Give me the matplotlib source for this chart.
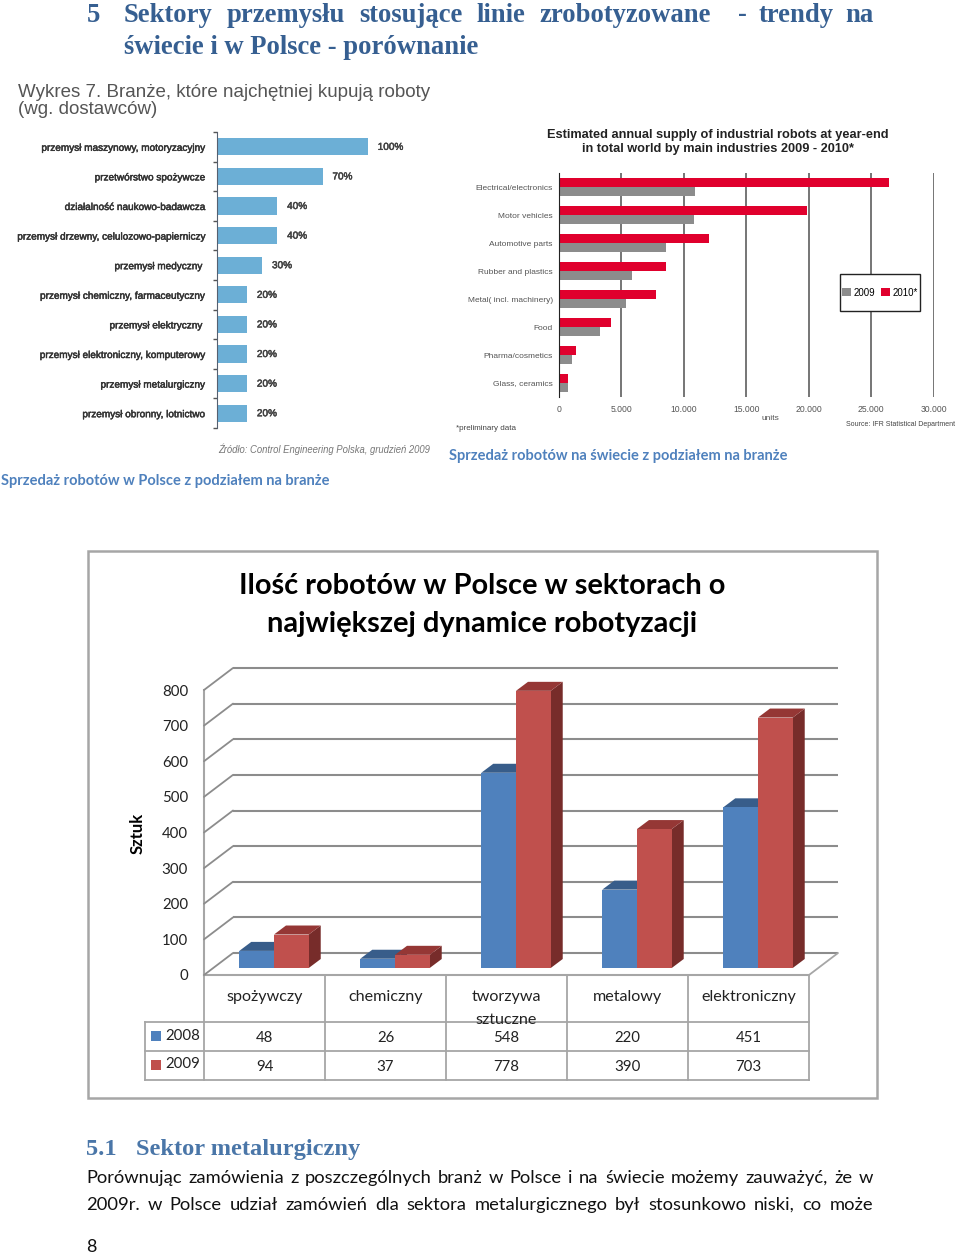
"""
Scanned report page: two pasted bar charts and one 3D-style column chart with data table.
"""

import matplotlib
matplotlib.use("Agg")
import matplotlib.pyplot as plt
import matplotlib.patheffects as pe
from matplotlib.patches import Polygon, Rectangle
from matplotlib.transforms import Affine2D

W, H = 960, 1255

# left pasted chart
pl_labels = ["przemysł maszynowy, motoryzacyjny", "przetwórstwo spożywcze", "działalność naukowo-badawcza",
             "przemysł drzewny, celulozowo-papierniczy", "przemysł medyczny ", "przemysł chemiczny, farmaceutyczny",
             "przemysł elektryczny ", "przemysł elektroniczny, komputerowy", "przemysł metalurgiczny",
             "przemysł obronny, lotnictwo"]
pl_values = [100, 70, 40, 40, 30, 20, 20, 20, 20, 20]

# right pasted chart
world_labels = ["Electrical/electronics", "Motor vehicles", "Automotive parts", "Rubber and plastics",
                "Metal( incl. machinery)", "Food", "Pharma/cosmetics", "Glass, ceramics"]
world_2010 = [26450, 19900, 12050, 8550, 7750, 4200, 1380, 720]
world_2009 = [10900, 10800, 8550, 5880, 5350, 3300, 1070, 720]
world_ticks = [0, 5000, 10000, 15000, 20000, 25000, 30000]
world_ticklabels = ["0", "5.000", "10.000", "15.000", "20.000", "25.000", "30.000"]

# main chart
sectors = ["spożywczy", "chemiczny", "tworzywa\nsztuczne", "metalowy", "elektroniczny"]
robots_2008 = [48, 26, 548, 220, 451]
robots_2009 = [94, 37, 778, 390, 703]
main_ticks = [0, 100, 200, 300, 400, 500, 600, 700, 800]

SANS = "Liberation Sans"
BODY = "Lato"
HEAD = "Liberation Serif"

fig = plt.figure(figsize=(W / 100, H / 100), dpi=100, facecolor="white")


def add_axes_px(left, top, right, bottom):
    return fig.add_axes([left / W, 1 - bottom / H, (right - left) / W, (bottom - top) / H])


# full page axes in pixels, used for text and page furniture
page = fig.add_axes([0, 0, 1, 1], zorder=0)
page.set_xlim(0, W)
page.set_ylim(H, 0)
page.axis("off")


def justified(words, x0, x1, y, **kw):
    """Spread words between x0 and x1 like a justified line of text."""
    renderer = fig.canvas.get_renderer()
    items = [page.text(x0, y, w, va="baseline", ha="left", **kw) for w in words]
    widths = [t.get_window_extent(renderer).width for t in items]
    gap = (x1 - x0 - sum(widths)) / (len(words) - 1)
    x = x0
    for t, w in zip(items, widths):
        t.set_x(x)
        x += w + gap


# heading
HEAD_BLUE = "#365f91"
head_kw = dict(family=HEAD, weight="bold", size=19.2, color=HEAD_BLUE)
page.text(87, 21.5, "5", va="baseline", **head_kw)
justified(["Sektory", "przemysłu", "stosujące", "linie", "zrobotyzowane"], 124, 711, 21.5, **head_kw)
justified(["-", "trendy", "na"], 738, 874, 21.5, **head_kw)
page.text(124, 54.5, "świecie i w Polsce - porównanie", va="baseline", **head_kw)

# scanned labels look slightly heavier than regular, a thin stroke gets close
heavy = [pe.withStroke(linewidth=0.35, foreground="#333333")]

# left pasted chart
page.text(18, 101, "Wykres 7. Branże, które najchętniej kupują roboty\n(wg. dostawców)", family=SANS,
          size=13.5, color="#555555", va="center", linespacing=1.03)
ax_pl = add_axes_px(217, 132, 368, 428)
ax_pl.patch.set_alpha(0)
ypos = list(range(len(pl_values)))
ax_pl.barh(ypos, pl_values, height=0.585, color="#6cafd6")
ax_pl.set_xlim(0, 100)
ax_pl.set_ylim(len(pl_values) - 0.5, -0.5)
ax_pl.set_yticks(ypos, pl_labels, family=SANS, size=7.2, color="#333333", path_effects=heavy)
ax_pl.set_yticks([i - 0.5 for i in range(len(pl_values) + 1)], minor=True)
ax_pl.tick_params(axis="y", which="major", length=0, pad=8.7)
ax_pl.tick_params(axis="y", which="minor", length=3, color="#555555", width=1)
ax_pl.set_xticks([])
for side in ["top", "right", "bottom"]:
    ax_pl.spines[side].set_visible(False)
ax_pl.spines["left"].set_color("#556070")
for y, v in zip(ypos, pl_values):
    ax_pl.annotate(f"{v}%", (v, y), xytext=(7, 0), textcoords="offset points", va="center",
                   annotation_clip=False, family=SANS, size=7.2, color="#444444", path_effects=heavy)
page.text(218, 449, "Źródło: Control Engineering Polska, grudzień 2009", family=SANS, style="italic",
          size=6.85, color="#777777", va="center")

# right pasted chart
page.text(718, 142, "Estimated annual supply of industrial robots at year-end\n"
          "in total world by main industries 2009 - 2010*", family=SANS, weight="bold", size=9.2,
          color="#222222", ha="center", va="center", linespacing=1.22)
ax_w = add_axes_px(559, 173, 933.5, 397)
ax_w.patch.set_alpha(0)
ypos = list(range(len(world_labels)))
ax_w.set_axisbelow(True)
ax_w.grid(axis="x", color="#505050", linewidth=1.1)
ax_w.barh([y + 0.17 for y in ypos], world_2009, height=0.33, color="#8c8c8c", label="2009")
ax_w.barh([y - 0.17 for y in ypos], world_2010, height=0.33, color="#e0002d", label="2010*")
ax_w.set_xlim(0, 30000)
ax_w.set_ylim(len(world_labels) - 0.5, -0.5)
ax_w.set_xticks(world_ticks, world_ticklabels, family=SANS, size=6.2, color="#555555")
ax_w.set_yticks(ypos, world_labels, family=SANS, size=6.0, color="#555555")
ax_w.tick_params(length=0, pad=4.5)
ax_w.tick_params(axis="x", pad=6)
for side in ["top", "right", "bottom"]:
    ax_w.spines[side].set_visible(False)
ax_w.spines["left"].set_color("#222222")
ax_w.add_patch(Rectangle((840, 274), 80, 37, transform=page.transData, facecolor="white", edgecolor="#222222",
                         linewidth=1, zorder=5, clip_on=False))
leg = ax_w.legend(loc="center", bbox_to_anchor=(880 / W, 1 - 292.5 / H), bbox_transform=fig.transFigure, ncol=2,
                  frameon=False, handlelength=0.9, handleheight=0.9, handletextpad=0.3, columnspacing=0.6,
                  borderpad=0, prop={"family": SANS, "size": 7})
leg.set_zorder(6)
page.text(770.5, 418.5, "units", family=SANS, size=6, color="#555555", ha="center", va="center")
page.text(456, 428, "*preliminary data", family=SANS, size=5.8, color="#444444", va="center")
page.text(846, 424.5, "Source: IFR Statistical Department", family=SANS, size=5.05, color="#444444", va="center")

# captions
CAP_BLUE = "#4f81bd"
page.text(1, 481, "Sprzedaż robotów w Polsce z podziałem na branże", family=BODY, weight="bold", size=10.5,
          color=CAP_BLUE, va="center")
page.text(449, 456, "Sprzedaż robotów na świecie z podziałem na branże", family=BODY, weight="bold", size=10.5,
          color=CAP_BLUE, va="center")

# main chart frame
page.add_patch(Rectangle((88, 551), 789, 547, facecolor="white", edgecolor="#a6a6a6", linewidth=1.8))
page.text(482, 605, "Ilość robotów w Polsce w sektorach o\nnajwiększej dynamice robotyzacji", family=BODY,
          weight="bold", size=20.9, color="black", ha="center", va="center", linespacing=1.55)
page.text(138, 833, "Sztuk", family=BODY, weight="bold", size=12, rotation=90, ha="center", va="center")

# front wall of the chart; depth is a shift in pixels
ax = add_axes_px(204, 690, 809, 975)
ax.patch.set_alpha(0)
ax.set_xlim(0, len(sectors))
ax.set_ylim(0, main_ticks[-1])


def shifted_poly(points, dx, dy, color, z):
    """Polygon given in data units, moved up and right by a pixel shift."""
    tr = ax.transData + Affine2D().translate(dx, dy)
    ax.add_patch(Polygon(points, closed=True, facecolor=color, edgecolor="none", transform=tr, zorder=z,
                         clip_on=False))


def diagonal(x, v, color):
    ax.annotate("", xy=(x, v), xycoords="data", xytext=(WALL_DX, WALL_DY), textcoords="offset pixels",
                arrowprops=dict(arrowstyle="-", color=color, lw=1.3, shrinkA=0, shrinkB=0))


WALL_DX, WALL_DY = 29, 22
GRID = "#8c8c8c"
wall = ax.transData + Affine2D().translate(WALL_DX, WALL_DY)
xmax = len(sectors)
for v in main_ticks:
    diagonal(0, v, GRID)
    ax.plot([0, xmax], [v, v], color=GRID, lw=1.5, transform=wall, clip_on=False, zorder=1,
            solid_capstyle="butt")
ax.plot([0, 0], [0, main_ticks[-1]], color="#a6a6a6", lw=1.5, clip_on=False, zorder=1)
ax.plot([0, xmax], [0, 0], color="#a6a6a6", lw=1.5, clip_on=False, zorder=1)
diagonal(xmax, 0, "#a6a6a6")

# columns
BAR_W = 0.287
BAR_DX, BAR_DY = 9.5, 7
DEPTH_DX, DEPTH_DY = 12, 9
px_to_x = xmax / 605
px_to_y = main_ticks[-1] / 285
for series, off, front, top, side in [(robots_2008, -BAR_W, "#4f81bd", "#385d8a", "#2f4f76"),
                                      (robots_2009, 0, "#c0504d", "#953735", "#772c2a")]:
    for i, v in enumerate(series):
        x0 = i + 0.5 + off
        x1 = x0 + BAR_W
        dx, dy = DEPTH_DX * px_to_x, DEPTH_DY * px_to_y
        shifted_poly([(x1, 0), (x1 + dx, dy), (x1 + dx, v + dy), (x1, v)], BAR_DX, BAR_DY, side, 3)
        shifted_poly([(x0, v), (x0 + dx, v + dy), (x1 + dx, v + dy), (x1, v)], BAR_DX, BAR_DY, top, 3)
        shifted_poly([(x0, 0), (x1, 0), (x1, v), (x0, v)], BAR_DX, BAR_DY, front, 4)

ax.set_yticks(main_ticks, [str(t) for t in main_ticks], family=BODY, size=10.8, color="#222222")
ax.tick_params(axis="y", length=0, pad=11.5)
ax.set_xticks([])
for spine in ax.spines.values():
    spine.set_visible(False)

# data table below the chart
col_w = 121
rows_y = [975, 1022, 1051, 1080]
TABLE = "#a6a6a6"
cell_kw = dict(family=BODY, color="#222222", ha="center", va="center", zorder=3)
for i in range(len(sectors) + 1):
    page.plot([204 + i * col_w] * 2, [rows_y[0], rows_y[-1]], color=TABLE, lw=1.3, zorder=2)
page.plot([145, 145], [rows_y[1], rows_y[-1]], color=TABLE, lw=1.3, zorder=2)
for y in rows_y[1:]:
    page.plot([145, 809], [y, y], color=TABLE, lw=1.3, zorder=2)
for i, name in enumerate(sectors):
    cx = 204 + (i + 0.5) * col_w
    for line, y in zip(name.split("\n"), [997.5, 1019.5]):
        page.text(cx, y, line, size=11.6, **cell_kw)
    page.text(cx, 1038, str(robots_2008[i]), size=10.8, **cell_kw)
    page.text(cx, 1067, str(robots_2009[i]), size=10.8, **cell_kw)
for y, name, color in [(1035.5, "2008", "#4f81bd"), (1064.5, "2009", "#c0504d")]:
    page.add_patch(Rectangle((150.5, y - 5), 10, 10, facecolor=color, edgecolor="none", zorder=3))
    page.text(165, y, name, family=BODY, size=10.8, color="#222222", va="center", zorder=3)

# text below the chart
sub_kw = dict(family=HEAD, weight="bold", size=17.6, color="#4a76a8", va="baseline")
page.text(86, 1155, "5.1", **sub_kw)
page.text(136, 1155, "Sektor metalurgiczny", **sub_kw)
line1 = "Porównując zamówienia z poszczególnych branż w Polsce i na świecie możemy zauważyć, że w"
line2 = "2009r. w Polsce udział zamówień dla sektora metalurgicznego był stosunkowo niski, co może"
justified(line1.split(), 86, 873, 1183, family=BODY, size=13.2, color="#111111")
justified(line2.split(), 86, 873, 1210, family=BODY, size=13.2, color="#111111")
page.text(86, 1247.5, "8", family=BODY, size=13, color="#111111", va="center")

fig.savefig("out.png", dpi=100)
